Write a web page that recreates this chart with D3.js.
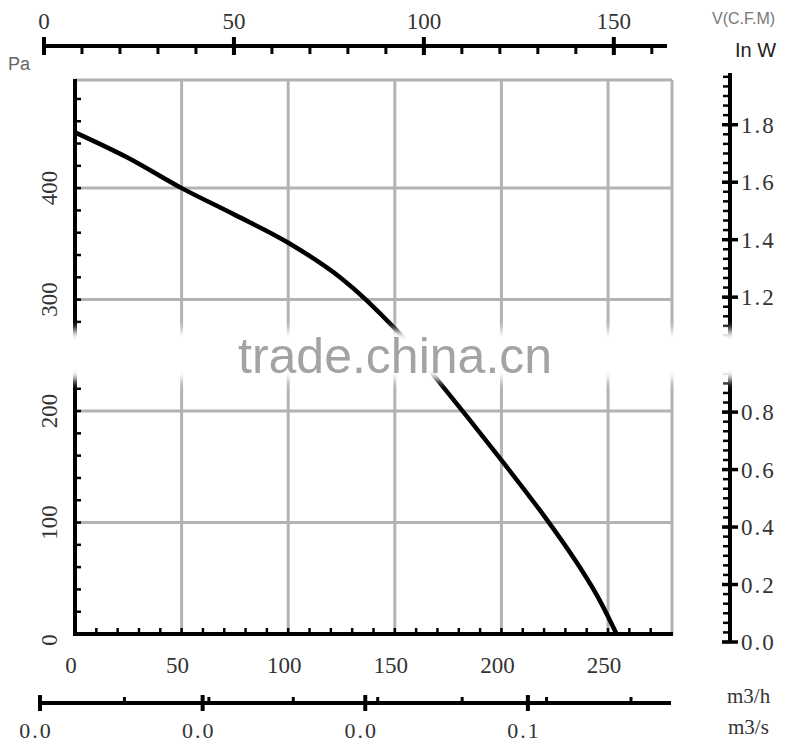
<!DOCTYPE html>
<html lang="en">
<head>
<meta charset="UTF-8">
<title>Fan curve</title>
<script src="https://cdn.jsdelivr.net/npm/d3@7/dist/d3.min.js"></script>
<style>
  body { margin: 0; background: #fff; }
  .num { font-family: "Liberation Serif", serif; font-size: 23px; fill: #333; }
  .sans { font-family: "Liberation Sans", Arial, sans-serif; }
</style>
</head>
<body>
<svg width="788" height="744"></svg>
<script>
    // curve: flow in m3/h, static pressure in Pa
    var flow = [0, 25, 50, 75, 100, 125, 150, 170, 200, 220, 235, 245, 254];
    var pressure = [450, 427, 400, 376, 351, 319, 274, 228, 156, 106, 65, 34, 0];

    var flowTicks = [0, 50, 100, 150, 200, 250];
    var pressureTicks = [0, 100, 200, 300, 400];
    var cfmTicks = [0, 50, 100, 150];
    var powerTicks = [0, 0.2, 0.4, 0.6, 0.8, 1.0, 1.2, 1.4, 1.6, 1.8];
    var m3sTicks = [0, 0.02, 0.04, 0.06];
    var m3hMarks = [40, 80, 120, 160, 200, 240, 280];

    var svg = d3.select("svg");

    var x = d3.scaleLinear().domain([0, 280]).range([75, 672]);
    var y = d3.scaleLinear().domain([0, 497]).range([634, 80]);
    var cfm = d3.scaleLinear().domain([0, 164]).range([44, 667]);
    var pw = d3.scaleLinear().domain([0, 1.98]).range([642, 73]);
    var m3s = d3.scaleLinear().domain([0, 0.0776]).range([40, 671]);
    var m3h = d3.scaleLinear().domain([0, 280]).range([40, 631]);

    var grid = "#b3b3b3";

    // grid
    var g = svg.append("g");
    g.selectAll(".vg").data(flowTicks.slice(1).concat([280])).enter().append("line")
        .attr("x1", function (d) { return x(d); }).attr("x2", function (d) { return x(d); })
        .attr("y1", y(497)).attr("y2", y(0))
        .attr("stroke", grid).attr("stroke-width", 3);
    g.selectAll(".hg").data(pressureTicks.slice(1).concat([497])).enter().append("line")
        .attr("x1", x(0)).attr("x2", x(280))
        .attr("y1", function (d) { return y(d); }).attr("y2", function (d) { return y(d); })
        .attr("stroke", grid).attr("stroke-width", 3);

    // left + bottom axes of the plot
    g.append("line").attr("x1", x(0)).attr("x2", x(0)).attr("y1", y(497) - 1).attr("y2", y(0) + 2)
        .attr("stroke", "#000").attr("stroke-width", 4);
    g.append("line").attr("x1", x(0) - 2).attr("x2", x(280) + 1).attr("y1", y(0)).attr("y2", y(0))
        .attr("stroke", "#000").attr("stroke-width", 4);
    g.selectAll(".ym").data(d3.range(20, 497, 20)).enter().append("line")
        .attr("x1", x(0)).attr("x2", x(0) + 6)
        .attr("y1", function (d) { return y(d); }).attr("y2", function (d) { return y(d); })
        .attr("stroke", "#000").attr("stroke-width", 2.5);
    g.selectAll(".xm").data(d3.range(10, 280, 10)).enter().append("line")
        .attr("x1", function (d) { return x(d); }).attr("x2", function (d) { return x(d); })
        .attr("y1", y(0)).attr("y2", y(0) - 6)
        .attr("stroke", "#000").attr("stroke-width", 2.5);

    // curve
    var line = d3.line()
        .x(function (d, i) { return x(flow[i]); })
        .y(function (d, i) { return y(pressure[i]); })
        .curve(d3.curveCatmullRom);
    svg.append("path").datum(flow).attr("d", line)
        .attr("fill", "none").attr("stroke", "#000").attr("stroke-width", 4.5);

    // tick labels of the plot
    svg.selectAll(".xl").data(flowTicks).enter().append("text")
        .attr("class", "num").attr("text-anchor", "middle")
        .attr("x", function (d) { return x(d) - 4; }).attr("y", 673)
        .text(function (d) { return d; });
    svg.selectAll(".yl").data(pressureTicks).enter().append("text")
        .attr("class", "num").attr("text-anchor", "middle")
        .attr("transform", function (d) { return "translate(57," + (y(d) + (d === 0 ? 6 : 0)) + ") rotate(-90)"; })
        .text(function (d) { return d; });

    // top CFM axis
    var topAxis = svg.append("g");
    topAxis.append("line").attr("x1", cfm(0)).attr("x2", cfm(164)).attr("y1", 46).attr("y2", 46)
        .attr("stroke", "#000").attr("stroke-width", 4);
    topAxis.selectAll(".tm").data(d3.range(10, 164, 10)).enter().append("line")
        .attr("x1", function (d) { return cfm(d); }).attr("x2", function (d) { return cfm(d); })
        .attr("y1", 46).attr("y2", 54).attr("stroke", "#000").attr("stroke-width", 3);
    topAxis.selectAll(".tM").data(cfmTicks).enter().append("line")
        .attr("x1", function (d) { return cfm(d); }).attr("x2", function (d) { return cfm(d); })
        .attr("y1", 37).attr("y2", 55).attr("stroke", "#000").attr("stroke-width", 4);
    topAxis.selectAll(".tl").data(cfmTicks).enter().append("text")
        .attr("class", "num").attr("text-anchor", "middle")
        .attr("x", function (d) { return cfm(d); }).attr("y", 29)
        .text(function (d) { return d; });

    // right power axis
    var rightAxis = svg.append("g");
    rightAxis.append("line").attr("x1", 730).attr("x2", 730).attr("y1", pw(1.98)).attr("y2", pw(0))
        .attr("stroke", "#000").attr("stroke-width", 4);
    rightAxis.selectAll(".rm").data(d3.range(0, 1.98, 0.2 / 6)).enter().append("line")
        .attr("x1", 723).attr("x2", 730)
        .attr("y1", function (d) { return pw(d); }).attr("y2", function (d) { return pw(d); })
        .attr("stroke", "#000").attr("stroke-width", 2.5);
    rightAxis.selectAll(".rM").data(powerTicks).enter().append("line")
        .attr("x1", 722).attr("x2", 738)
        .attr("y1", function (d) { return pw(d); }).attr("y2", function (d) { return pw(d); })
        .attr("stroke", "#000").attr("stroke-width", 3.5);
    rightAxis.selectAll(".rl").data(powerTicks).enter().append("text")
        .attr("class", "num").attr("x", 741)
        .attr("y", function (d) { return pw(d) + 8; })
        .attr("letter-spacing", 2)
        .text(d3.format(".1f"));

    // bottom m3/s axis
    var botAxis = svg.append("g");
    botAxis.append("line").attr("x1", m3s(0)).attr("x2", m3s(0.0776)).attr("y1", 703).attr("y2", 703)
        .attr("stroke", "#000").attr("stroke-width", 4);
    botAxis.selectAll(".bm").data(m3hMarks).enter().append("line")
        .attr("x1", function (d) { return m3h(d); }).attr("x2", function (d) { return m3h(d); })
        .attr("y1", 703).attr("y2", 697).attr("stroke", "#000").attr("stroke-width", 3);
    botAxis.selectAll(".bM").data(m3sTicks).enter().append("line")
        .attr("x1", function (d) { return m3s(d); }).attr("x2", function (d) { return m3s(d); })
        .attr("y1", 695).attr("y2", 711).attr("stroke", "#000").attr("stroke-width", 4);
    botAxis.selectAll(".bl").data(m3sTicks).enter().append("text")
        .attr("class", "num").attr("text-anchor", "middle")
        .attr("x", function (d) { return m3s(d) - 4; }).attr("y", 738)
        .style("font-size", "22px")
        .attr("letter-spacing", 2)
        .text(d3.format(".1f"));

    // unit labels
    svg.append("text").attr("class", "num").attr("x", 727).attr("y", 703).style("font-size", "21px").text("m3/h");
    svg.append("text").attr("class", "num").attr("x", 728).attr("y", 734).style("font-size", "21px").text("m3/s");
    svg.append("text").attr("class", "sans").attr("x", 735).attr("y", 57)
        .style("font-size", "20px").style("fill", "#222").text("In W");
    svg.append("text").attr("class", "sans").attr("x", 8).attr("y", 70)
        .style("font-size", "18px").style("fill", "#666").text("Pa");
    svg.append("text").attr("class", "sans").attr("x", 712).attr("y", 24)
        .style("font-size", "16px").style("fill", "#777").text("V(C.F.M)");

    // watermark band
    var f = svg.append("defs").append("filter").attr("id", "soft")
        .attr("x", "-10%").attr("y", "-50%").attr("width", "120%").attr("height", "200%");
    f.append("feGaussianBlur").attr("stdDeviation", 5);
    svg.append("rect").attr("x", 55).attr("y", 330).attr("width", 733).attr("height", 50)
        .attr("fill", "#fff").attr("filter", "url(#soft)");
    svg.append("text").attr("class", "sans").attr("x", 238).attr("y", 373)
        .style("font-size", "50px").style("fill", "#a3a3a3").text("trade.china.cn");
</script>
</body>
</html>
